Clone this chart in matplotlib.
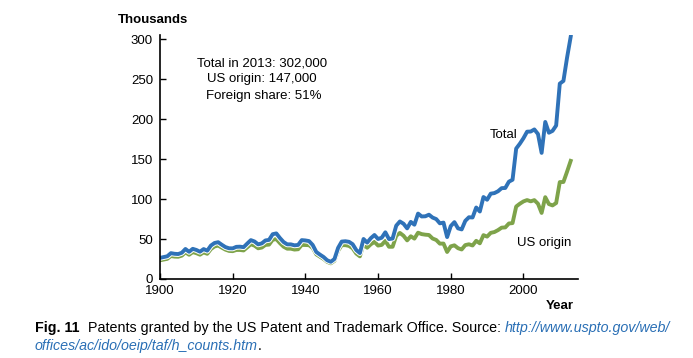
import matplotlib.pyplot as plt
import matplotlib.patheffects as pe

plt.rcParams['font.family'] = ['Liberation Sans', 'DejaVu Sans']

years = list(range(1900, 2014))

# patents granted, thousands (all types)
total = [26.4, 27.4, 28.4, 32.3, 31.5, 31.2, 32.8, 37.5, 34.0, 37.7,
         36.3, 34.1, 37.4, 35.4, 41.8, 45.0, 46.0, 42.8, 39.9, 38.4,
         38.3, 40.2, 40.4, 39.8, 44.3, 48.6, 46.9, 43.3, 44.5, 48.2,
         48.9, 56.0, 57.0, 51.2, 46.2, 43.3, 43.3, 42.1, 42.6, 48.6,
         48.2, 47.4, 42.6, 33.8, 30.5, 27.5, 23.4, 21.5, 25.0, 38.9,
         46.8, 47.2, 46.5, 43.5, 36.2, 32.4, 50.0, 45.5, 51.0, 55.0,
         50.0, 51.6, 58.4, 49.9, 50.6, 66.7, 71.9, 69.1, 63.3, 71.4,
         67.9, 81.8, 78.2, 78.4, 80.4, 76.8, 74.9, 69.6, 70.5, 52.4,
         66.2, 71.1, 63.3, 62.0, 72.7, 77.2, 76.9, 89.4, 84.4, 102.5,
         99.1, 106.7, 107.4, 109.7, 113.6, 113.8, 121.7, 124.1, 163.1, 169.1,
         176.0, 184.2, 184.4, 187.0, 181.3, 157.7, 196.4, 182.9, 185.2, 191.9,
         244.3, 247.7, 276.8, 302.9]

us_origin = [23.4, 24.3, 25.2, 28.7, 28.0, 27.8, 29.2, 33.4, 30.3, 33.6,
             32.3, 30.4, 33.3, 31.5, 37.4, 40.7, 41.8, 39.2, 36.7, 35.1,
             34.8, 36.3, 36.3, 35.7, 39.6, 43.4, 41.7, 38.4, 39.3, 42.6,
             43.0, 49.1, 49.9, 44.8, 40.4, 37.9, 37.9, 36.8, 37.2, 42.6,
             42.5, 42.3, 38.8, 30.8, 27.9, 25.1, 21.4, 19.6, 22.7, 35.2,
             42.3, 42.3, 41.4, 38.4, 31.8, 28.3, 43.4, 39.1, 43.4, 46.4,
             41.8, 42.6, 47.7, 40.3, 40.3, 54.1, 57.6, 54.1, 48.3, 53.4,
             50.5, 57.9, 56.1, 55.4, 55.0, 50.6, 48.8, 44.2, 44.3, 33.8,
             40.8, 42.1, 38.5, 36.9, 42.4, 43.4, 41.9, 47.7, 44.6, 54.8,
             53.0, 57.7, 58.7, 61.1, 64.2, 64.5, 69.4, 69.9, 90.6, 94.1,
             97.0, 98.7, 97.1, 98.6, 94.1, 82.6, 102.3, 93.7, 92.0, 95.0,
             121.2, 121.3, 134.2, 147.7]

x_ticks = [1900, 1920, 1940, 1960, 1980, 2000]
y_ticks = [0, 50, 100, 150, 200, 250, 300]

BLUE = '#2f72b8'
GREEN = '#7ea34a'

fig = plt.figure(figsize=(6.93, 3.58), dpi=100)
ax = fig.add_axes([0.2309, 0.2207, 0.6031, 0.6813])

ax.plot(years, us_origin, color=GREEN, lw=2.8, solid_joinstyle='round')
ax.plot(years, total, color=BLUE, lw=2.8, solid_joinstyle='round',
        path_effects=[pe.Stroke(linewidth=4.2, foreground='white'), pe.Normal()])

ax.set_xlim(1900, 2015)
ax.set_ylim(0, 305)
ax.set_xticks(x_ticks)
ax.set_yticks(y_ticks)
ax.tick_params(direction='in', length=4, width=1, labelsize=9.5)
ax.tick_params(axis='y', pad=5)
ax.tick_params(axis='x', pad=4)
for s in ['top', 'right']:
    ax.spines[s].set_visible(False)
for s in ['left', 'bottom']:
    ax.spines[s].set_linewidth(1.2)

ax.text(1998.3, 180, 'Total', fontsize=9.5, ha='right', va='center')
ax.text(2013.3, 45, 'US origin', fontsize=9.5, ha='right', va='center')

fig.text(262 / 693, 1 - 63 / 358, 'Total in 2013: 302,000', fontsize=9.5, ha='center', va='center')
fig.text(262 / 693, 1 - 79 / 358, 'US origin: 147,000', fontsize=9.5, ha='center', va='center')
fig.text(264 / 693, 1 - 96 / 358, 'Foreign share: 51%', fontsize=9.5, ha='center', va='center')

fig.text(118 / 693, 1 - 20 / 358, 'Thousands', fontsize=9.5, fontweight='bold', ha='left', va='center')
fig.text(574 / 693, 1 - 306 / 358, 'Year', fontsize=9.5, fontweight='bold', ha='right', va='center')

# caption, pieces chained left to right
renderer = fig.canvas.get_renderer()
cap_font = ['Liberation Sans', 'DejaVu Sans']
LINK = '#2a6fb5'


def chain(pieces, x0, y):
    x = x0
    for txt, kw in pieces:
        t = fig.text(x / 693, 1 - y / 358, txt, fontsize=10.3, family=cap_font,
                     ha='left', va='center', **kw)
        bb = t.get_window_extent(renderer=renderer)
        x += bb.width


chain([('Fig. 11', dict(fontweight='bold')),
       ('  Patents granted by the US Patent and Trademark Office. Source: ', {}),
       ('http://www.uspto.gov/web/', dict(color=LINK, style='italic'))], 35, 328)
chain([('offices/ac/ido/oeip/taf/h_counts.htm', dict(color=LINK, style='italic')),
       ('.', {})], 35, 346)

plt.savefig('out.png', dpi=100)
